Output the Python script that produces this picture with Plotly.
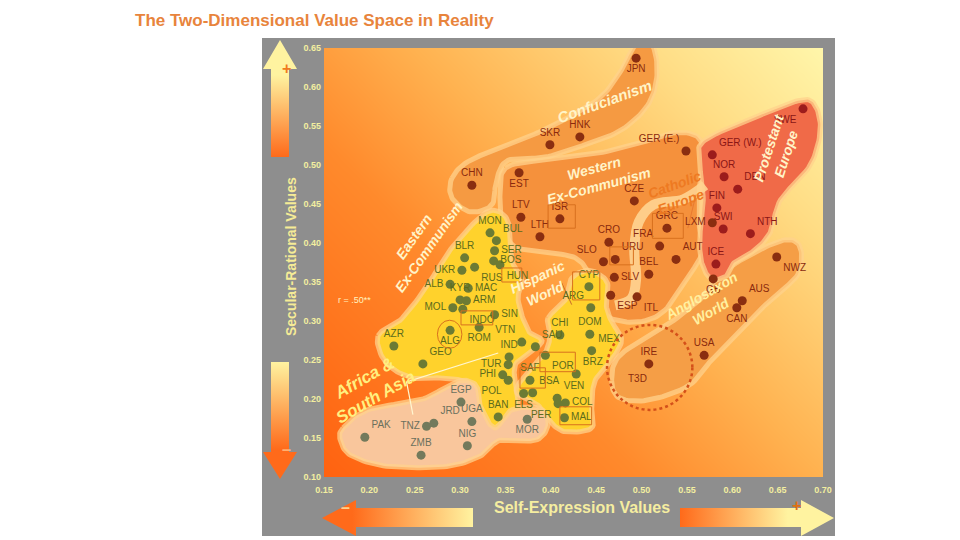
import numpy as np
import plotly.graph_objects as go

# ---------------- data ----------------
x_ticks = [0.15, 0.20, 0.25, 0.30, 0.35, 0.40, 0.45, 0.50, 0.55, 0.60, 0.65, 0.70]
y_ticks = [0.10, 0.15, 0.20, 0.25, 0.30, 0.35, 0.40, 0.45, 0.50, 0.55, 0.60, 0.65]

orange_names = ["JPN", "SKR", "HNK", "CHN", "EST", "LTV", "ISR", "LTH", "CZE", "CRO", "SLO", "URU",
                "SLV", "GRC", "FRA", "AUT", "BEL", "ESP", "ITL", "GER (E.)", "LXM", "GB", "AUS",
                "CAN", "NWZ", "USA", "IRE"]
orange_x = [0.494, 0.399, 0.432, 0.313, 0.365, 0.367, 0.410, 0.388, 0.492, 0.464, 0.458, 0.471,
            0.470, 0.528, 0.520, 0.538, 0.508, 0.466, 0.495, 0.549, 0.578, 0.579, 0.611,
            0.605, 0.649, 0.569, 0.508]
orange_y = [0.637, 0.526, 0.536, 0.474, 0.490, 0.433, 0.431, 0.408, 0.454, 0.401, 0.376, 0.379,
            0.356, 0.419, 0.396, 0.379, 0.360, 0.333, 0.331, 0.518, 0.426, 0.354, 0.326,
            0.317, 0.382, 0.256, 0.245]

prot_names = ["SWE", "GER (W.)", "NOR", "DEN", "FIN", "SWI", "NTH", "ICE"]
prot_x = [0.678, 0.578, 0.591, 0.606, 0.583, 0.590, 0.620, 0.582]
prot_y = [0.572, 0.513, 0.485, 0.469, 0.445, 0.418, 0.412, 0.373]

yellow_names = ["MON", "BUL", "BLR", "SER", "BOS", "HUN", "UKR", "RUS", "ALB", "MAC", "KYR", "ARM",
                "MOL", "ALG", "INDO", "SIN", "ROM", "AZR", "GEO", "VTN", "SAU", "CHI", "DOM", "MEX",
                "CYP", "ARG", "IND", "TUR", "POR", "BRZ", "PHI", "POL", "SAF", "BSA", "ELS", "VEN",
                "COL", "PER", "MAL", "BAN"]
yellow_x = [0.333, 0.340, 0.305, 0.338, 0.337, 0.344, 0.302, 0.316, 0.289, 0.309, 0.300, 0.307,
            0.292, 0.289, 0.303, 0.338, 0.321, 0.227, 0.259, 0.368, 0.383, 0.410, 0.443, 0.445,
            0.442, 0.444, 0.354, 0.353, 0.394, 0.428, 0.347, 0.353, 0.377, 0.380, 0.370, 0.407,
            0.416, 0.408, 0.415, 0.342]
yellow_y = [0.413, 0.403, 0.381, 0.390, 0.377, 0.372, 0.365, 0.369, 0.347, 0.342, 0.327, 0.326,
            0.317, 0.288, 0.315, 0.308, 0.292, 0.268, 0.245, 0.273, 0.267, 0.282, 0.283, 0.262,
            0.344, 0.317, 0.254, 0.244, 0.256, 0.232, 0.231, 0.224, 0.224, 0.208, 0.207, 0.201,
            0.195, 0.194, 0.176, 0.177]

africa_names = ["EGP", "UGA", "JRD", "TNZ", "PAK", "NIG", "ZMB", "MOR"]
africa_x = [0.301, 0.313, 0.271, 0.263, 0.195, 0.308, 0.257, 0.374]
africa_y = [0.196, 0.171, 0.169, 0.165, 0.151, 0.140, 0.128, 0.174]

# label placement (style)
label_pos = {
    "JPN": "bottom center", "SWE": "bottom left", "EST": "bottom center", "GER (E.)": "top left",
    "GER (W.)": "top right", "DEN": "top right", "LXM": "middle left", "NTH": "top right",
    "HUN": "bottom right", "UKR": "middle left", "ALB": "middle left", "MOL": "middle left",
    "KYR": "top center", "RUS": "bottom right", "MAC": "middle right", "ARM": "middle right",
    "SER": "middle right", "BOS": "middle right", "BUL": "top right", "INDO": "bottom right",
    "SIN": "middle right", "ROM": "bottom center", "SLO": "top left", "URU": "top right",
    "SLV": "middle right", "FRA": "top left", "AUT": "top right", "ARG": "top left",
    "ESP": "bottom right", "ITL": "bottom right", "GB": "bottom center", "AUS": "top right",
    "CAN": "bottom center", "NWZ": "bottom right", "MEX": "top right", "IND": "top center",
    "TUR": "middle left", "PHI": "middle left", "POL": "bottom left", "POR": "bottom right",
    "BRZ": "top right", "BSA": "top right", "ELS": "bottom center", "VEN": "top right",
    "COL": "middle right", "PER": "bottom left", "MAL": "middle right", "MOR": "bottom center",
    "TNZ": "middle left", "JRD": "top right", "PAK": "top right", "GEO": "top right",
    "CHI": "top center", "VTN": "top left", "SAU": "top right", "ALG": "bottom center",
}

# ---------------- helpers ----------------
def smooth_closed(pts, n=12):
    p = np.array(pts, dtype=float)
    N = len(p)
    out = []
    for i in range(N):
        p0, p1, p2, p3 = p[(i - 1) % N], p[i], p[(i + 1) % N], p[(i + 2) % N]
        for t in np.linspace(0, 1, n, endpoint=False):
            out.append(0.5 * (2 * p1 + (-p0 + p2) * t + (2 * p0 - 5 * p1 + 4 * p2 - p3) * t * t
                              + (-p0 + 3 * p1 - 3 * p2 + p3) * t ** 3))
    out.append(out[0])
    out = np.array(out)
    return out[:, 0], out[:, 1]

fig = go.Figure()

# background gradient
gx = np.linspace(0.14, 0.71, 40)
gy = np.linspace(0.09, 0.66, 40)
U = (gx - 0.15) / 0.55
V = (gy - 0.10) / 0.55
Z = 0.55 * U[None, :] + 0.45 * V[:, None]
fig.add_trace(go.Heatmap(x=gx, y=gy, z=Z, zmin=0, zmax=1, showscale=False, hoverinfo="skip",
                         zsmooth="best",
                         colorscale=[[0, "#ff6210"], [0.35, "#ff8a2c"], [0.55, "#ffb250"],
                                     [0.8, "#ffdc84"], [1, "#fff6aa"]]))

regions = [
    ("conf", "#f59a42", [(0.291, 0.483), (0.311, 0.506), (0.361, 0.529), (0.410, 0.555), (0.454, 0.586),
                         (0.478, 0.622), (0.493, 0.653), (0.512, 0.653), (0.517, 0.615), (0.507, 0.577),
                         (0.478, 0.545), (0.438, 0.526), (0.394, 0.510), (0.353, 0.506), (0.340, 0.481),
                         (0.335, 0.449), (0.311, 0.440), (0.291, 0.458)]),
    ("west", "#f5913c", [(0.350, 0.496), (0.388, 0.506), (0.443, 0.513), (0.498, 0.528), (0.534, 0.541),
                         (0.562, 0.536), (0.569, 0.506), (0.564, 0.474), (0.564, 0.417), (0.570, 0.394),
                         (0.553, 0.359), (0.526, 0.314), (0.498, 0.299), (0.465, 0.304), (0.451, 0.327),
                         (0.443, 0.359), (0.427, 0.381), (0.394, 0.388), (0.361, 0.394), (0.347, 0.423),
                         (0.344, 0.462)]),
    ("anglo", "#f59e46", [(0.467, 0.224), (0.476, 0.256), (0.520, 0.288), (0.564, 0.327), (0.586, 0.359),
                          (0.620, 0.385), (0.658, 0.404), (0.675, 0.394), (0.672, 0.359), (0.642, 0.327),
                          (0.609, 0.288), (0.581, 0.256), (0.553, 0.218), (0.509, 0.199), (0.476, 0.201)]),
    ("prot", "#f06a48", [(0.570, 0.532), (0.631, 0.564), (0.675, 0.583), (0.691, 0.577), (0.697, 0.545),
                         (0.686, 0.500), (0.653, 0.455), (0.642, 0.414), (0.625, 0.391), (0.603, 0.376),
                         (0.595, 0.359), (0.578, 0.353), (0.567, 0.372), (0.564, 0.404), (0.568, 0.455),
                         (0.564, 0.506)]),
    ("yel1", "#ffd22c", [(0.2095, 0.281), (0.234, 0.301), (0.262, 0.342), (0.287, 0.388), (0.318, 0.429),
                         (0.337, 0.442), (0.353, 0.427), (0.357, 0.378), (0.368, 0.353), (0.364, 0.327),
                         (0.375, 0.288), (0.390, 0.273), (0.361, 0.244), (0.364, 0.205), (0.361, 0.179),
                         (0.350, 0.163), (0.331, 0.163), (0.316, 0.188), (0.313, 0.218), (0.283, 0.227),
                         (0.247, 0.227), (0.218, 0.247)]),
    ("yel2", "#ffd22c", [(0.397, 0.304), (0.416, 0.327), (0.423, 0.355), (0.443, 0.365), (0.462, 0.350),
                         (0.461, 0.321), (0.467, 0.299), (0.478, 0.276), (0.467, 0.250), (0.449, 0.224),
                         (0.445, 0.192), (0.445, 0.163), (0.416, 0.158), (0.399, 0.171), (0.386, 0.192),
                         (0.362, 0.209), (0.375, 0.235), (0.394, 0.260), (0.399, 0.282)]),
    ("afr", "#f9c69c", [(0.171, 0.163), (0.198, 0.186), (0.256, 0.199), (0.283, 0.214), (0.302, 0.224),
                        (0.318, 0.217), (0.322, 0.192), (0.338, 0.163), (0.357, 0.186), (0.388, 0.188),
                        (0.397, 0.167), (0.383, 0.147), (0.344, 0.147), (0.324, 0.128), (0.294, 0.115),
                        (0.256, 0.112), (0.212, 0.115), (0.179, 0.128), (0.168, 0.147)]),
]
for name, col, pts in regions:
    sx, sy = smooth_closed(pts)
    fig.add_trace(go.Scatter(x=sx, y=sy, mode="lines", fill="toself", fillcolor=col,
                             line=dict(color="rgba(255,210,140,0.75)", width=5),
                             hoverinfo="skip", showlegend=False))

# pale band separating Catholic Europe
fig.add_trace(go.Scatter(x=[0.570, 0.546, 0.513, 0.497, 0.492, 0.494, 0.489, 0.471],
                         y=[0.474, 0.456, 0.449, 0.427, 0.392, 0.354, 0.329, 0.320],
                         mode="lines", line=dict(color="rgba(255,212,145,0.9)", width=10, shape="spline"),
                         hoverinfo="skip", showlegend=False))

# pointer lines
fig.add_trace(go.Scatter(x=[0.342, 0.241, 0.248], y=[0.259, 0.222, 0.180], mode="lines",
                         line=dict(color="#fff6d0", width=1.2), hoverinfo="skip", showlegend=False))
fig.add_trace(go.Scatter(x=[0.412, 0.423], y=[0.349, 0.321], mode="lines",
                         line=dict(color="#c86a2a", width=1), hoverinfo="skip", showlegend=False))
fig.add_trace(go.Scatter(x=[0.560, 0.551], y=[0.462, 0.419], mode="lines",
                         line=dict(color="#e87a30", width=1), hoverinfo="skip", showlegend=False))

groups = [
    (orange_names, orange_x, orange_y, "#8a2e10", "#8a2a0e"),
    (prot_names, prot_x, prot_y, "#9c1c1c", "#8a1616"),
    (yellow_names, yellow_x, yellow_y, "#6c7b34", "#5c6b1c"),
    (africa_names, africa_x, africa_y, "#737a5c", "#6b705c"),
]
for names, xs, ys, dot_col, txt_col in groups:
    fig.add_trace(go.Scatter(
        x=xs, y=ys, mode="markers+text", text=names,
        textposition=[label_pos.get(n, "top center") for n in names],
        marker=dict(size=9, color=dot_col),
        textfont=dict(family="Arial", size=10, color=txt_col),
        hoverinfo="text", showlegend=False))

# arrows on a full-page pixel overlay
def arrow_trace(xs, ys, orient, cs):
    return go.Scatter(x=xs, y=ys, xaxis="x2", yaxis="y2", mode="lines", fill="toself",
                      line=dict(width=0, color="rgba(0,0,0,0)"),
                      fillgradient=dict(type=orient, colorscale=cs),
                      hoverinfo="skip", showlegend=False)

Y = "#fff3a0"
O = "#ff6a1a"
fig.add_trace(arrow_trace([280, 297, 289, 289, 271, 271, 263, 280], [40, 69, 69, 157, 157, 69, 69, 40],
                          "vertical", [[0, O], [0.7, Y], [1, Y]]))
fig.add_trace(arrow_trace([271, 289, 289, 297, 280, 263, 271, 271], [362, 362, 452, 452, 479, 452, 452, 362],
                          "vertical", [[0, O], [0.25, O], [1, Y]]))
fig.add_trace(arrow_trace([322, 356, 356, 473, 473, 356, 356, 322], [518, 500, 508, 508, 527, 527, 536, 518],
                          "horizontal", [[0, O], [0.2, O], [1, Y]]))
fig.add_trace(arrow_trace([680, 801, 801, 834, 801, 801, 680, 680], [508, 508, 500, 518, 536, 527, 527, 508],
                          "horizontal", [[0, O], [0.7, Y], [1, Y]]))

shapes = [dict(type="rect", xref="paper", yref="paper", x0=262 / 960, x1=835 / 960,
               y0=1 - 536 / 540, y1=1 - 38 / 540, fillcolor="#8e8e8e", line=dict(width=0), layer="below")]
# small label outlines
boxes = [(0.397, 0.427, 0.419, 0.449), (0.346, 0.368, 0.350, 0.368), (0.424, 0.454, 0.327, 0.363),
         (0.465, 0.491, 0.372, 0.395), (0.512, 0.546, 0.406, 0.438), (0.301, 0.336, 0.295, 0.313),
         (0.388, 0.427, 0.235, 0.260), (0.366, 0.394, 0.214, 0.240), (0.410, 0.445, 0.167, 0.190)]
for x0, x1, y0, y1 in boxes:
    shapes.append(dict(type="rect", x0=x0, x1=x1, y0=y0, y1=y1, line=dict(color="#d8701e", width=1)))
shapes.append(dict(type="circle", x0=0.275, x1=0.302, y0=0.265, y1=0.301, line=dict(color="#d8701e", width=1)))
shapes.append(dict(type="circle", x0=0.462, x1=0.556, y0=0.186, y1=0.295,
                   line=dict(color="#d4501a", width=2.5, dash="dot")))

ann = []
def region_label(text, x, y, ang, color="#fff4c8", size=15):
    ann.append(dict(text=text, x=x, y=y, textangle=ang, showarrow=False,
                    font=dict(family="Arial", size=size, color=color, weight="bold", style="italic")))

region_label("Confucianism", 0.459, 0.581, -20)
region_label("Protestant<br>Europe", 0.650, 0.519, -72, size=14)
region_label("Western<br>Ex-Communism", 0.450, 0.485, -15, size=14)
region_label("Catholic<br>Europe", 0.540, 0.464, -20, color="#ee7a22", size=14)
region_label("Eastern<br>Ex-Communism", 0.258, 0.402, -55, size=14)
region_label("Hispanic<br>World", 0.390, 0.346, -25, size=14)
region_label("Anglosaxon<br>World", 0.570, 0.322, -30, color="#fff0a0", size=14)
region_label("Africa &<br>South Asia", 0.201, 0.215, -30, color="#fff080", size=17)
ann.append(dict(text="r = .50**", x=0.184, y=0.327, showarrow=False,
                font=dict(family="Arial", size=9, color="#fff4c0")))
ann.append(dict(text="T3D", x=0.495, y=0.226, showarrow=False,
                font=dict(family="Arial", size=10, color="#8a2a0e")))

# page texts
ann.append(dict(text="The Two-Dimensional Value Space in Reality", xref="paper", yref="paper",
                x=133 / 960, y=1 - 21 / 540, xanchor="left", yanchor="middle", showarrow=False,
                font=dict(family="Arial", size=17, color="#e8843c", weight="bold")))
ann.append(dict(text="Secular-Rational Values", xref="paper", yref="paper", x=281 / 960, y=1 - 257 / 540,
                textangle=-90, showarrow=False,
                font=dict(family="Arial", size=14, color="#f5eb96", weight="bold")))
ann.append(dict(text="Self-Expression Values", xref="paper", yref="paper", x=582 / 960, y=1 - 518 / 540,
                showarrow=False, font=dict(family="Arial", size=16, color="#f5eda0", weight="bold")))
ann.append(dict(text="+", xref="paper", yref="paper", x=280 / 960, y=1 - 58 / 540, showarrow=False,
                font=dict(family="Arial", size=16, color="#f07a20", weight="bold")))
ann.append(dict(text="–", xref="paper", yref="paper", x=280 / 960, y=1 - 460 / 540, showarrow=False,
                font=dict(family="Arial", size=16, color="#ffb070", weight="bold")))
ann.append(dict(text="–", xref="paper", yref="paper", x=345 / 960, y=1 - 518 / 540, showarrow=False,
                font=dict(family="Arial", size=16, color="#ffd090", weight="bold")))
ann.append(dict(text="+", xref="paper", yref="paper", x=803 / 960, y=1 - 516 / 540, showarrow=False,
                font=dict(family="Arial", size=16, color="#e07010", weight="bold")))

tickfont = dict(family="Arial", size=9, color="#f3eea0", weight="bold")
fig.update_layout(
    template="none",
    width=960, height=540, margin=dict(l=0, r=0, t=0, b=0, pad=0, autoexpand=False),
    paper_bgcolor="white", plot_bgcolor="rgba(0,0,0,0)", showlegend=False,
    shapes=shapes, annotations=ann,
    xaxis=dict(domain=[324 / 960, 823 / 960], range=[0.15, 0.70], tickvals=x_ticks,
               ticktext=[f"{v:.2f}" for v in x_ticks], showgrid=False, zeroline=False, showline=False,
               ticks="", tickfont=tickfont, ticklabelstandoff=6, fixedrange=True, automargin=False),
    yaxis=dict(domain=[1 - 477 / 540, 1 - 48 / 540], range=[0.10, 0.65], tickvals=y_ticks,
               ticktext=[f"{v:.2f}" for v in y_ticks], showgrid=False, zeroline=False, showline=False,
               ticks="", tickfont=tickfont, ticklabelstandoff=2, fixedrange=True, automargin=False),
    xaxis2=dict(domain=[0, 1], range=[0, 960], visible=False, anchor="y2", fixedrange=True,
                automargin=False),
    yaxis2=dict(domain=[0, 1], range=[540, 0], visible=False, anchor="x2", fixedrange=True,
                automargin=False),
)
fig.write_html("out.html", config={"displayModeBar": False},
               post_script="document.body.style.margin='0';")
